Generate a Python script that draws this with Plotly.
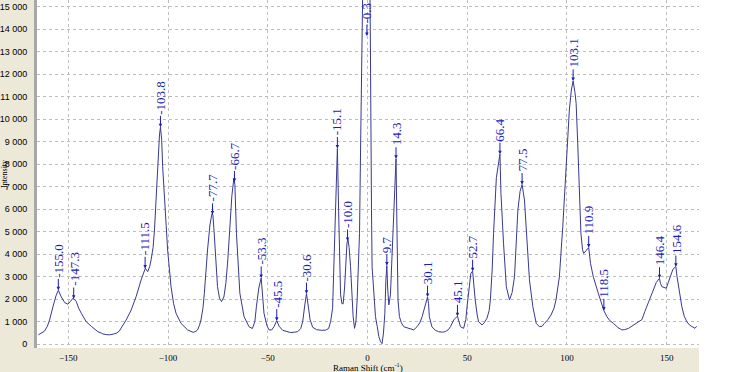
import numpy as np
import plotly.graph_objects as go

# Raman spectrum
shift = [
    -165.0, -163.5, -162.0, -160.5, -159.4, -157.7, -156.2, -155.0, -153.5, -151.8,
    -150.2, -149.0, -147.6, -146.0, -144.8, -143.5, -141.0, -138.5, -136.5, -135.2,
    -133.5, -132.7, -131.0, -129.4, -127.5, -126.0, -124.5, -123.5, -121.0, -118.5,
    -116.0, -113.5, -111.9, -111.4, -110.2, -109.2, -108.5, -107.5, -106.8, -106.0,
    -105.2, -104.3, -103.8, -103.2, -102.7, -101.3, -100.2, -98.5, -97.2, -96.0,
    -93.5, -90.2, -88.5, -87.4, -86.0, -85.2, -84.2, -83.5, -82.5, -81.8,
    -80.2, -79.0, -78.0, -77.5, -76.9, -76.0, -75.2, -74.2, -73.2, -72.0,
    -71.0, -70.0, -69.0, -68.0, -67.0, -66.5, -65.7, -64.8, -64.0, -61.9,
    -59.4, -57.7, -56.5, -55.7, -54.5, -53.3, -52.7, -51.9, -50.5, -49.4,
    -48.0, -46.8, -45.5, -44.3, -42.5, -40.5, -38.5, -36.5, -35.0, -33.5,
    -32.5, -31.5, -30.6, -29.7, -28.8, -27.5, -25.5, -23.0, -21.0, -19.5,
    -18.5, -17.5, -16.8, -15.9, -15.1, -14.5, -14.0, -13.5, -12.8, -12.2,
    -11.5, -11.0, -10.3, -9.8, -9.2, -8.5, -7.8, -7.2, -6.5, -5.8,
    -5.2, -4.5, -4.0, -3.5, -3.1, -2.7, -2.2, -0.3, 1.0, 1.4,
    1.6, 2.0, 2.3, 3.2, 4.0, 4.9, 5.7, 6.5, 7.3, 8.0,
    8.7, 9.2, 9.7, 10.1, 10.7, 11.5, 12.3, 13.0, 13.7, 14.3,
    14.8, 15.3, 16.0, 17.0, 18.2, 20.7, 23.2, 24.8, 26.2, 27.4,
    29.0, 30.1, 30.6, 31.0, 32.3, 34.0, 35.7, 37.5, 39.0, 40.5,
    41.6, 43.2, 45.1, 45.8, 46.6, 48.2, 49.3, 49.9, 50.8, 51.8,
    52.7, 53.3, 54.0, 55.0, 55.7, 57.4, 58.5, 59.9, 61.0, 61.6,
    62.5, 63.2, 64.6, 66.4, 66.9, 68.2, 69.6, 71.2, 72.5,
    73.7, 74.5, 75.4, 76.5, 77.5, 78.7, 80.0, 81.2, 82.9, 84.6,
    86.2, 87.5, 88.7, 90.5, 92.0, 93.5, 94.5, 96.2, 97.9, 99.6,
    101.2, 102.2, 103.1, 104.0, 104.6, 105.4, 106.2, 107.0, 107.8, 108.4,
    109.5, 110.9, 111.8, 113.2, 115.7, 117.9, 118.5, 120.0, 121.5, 123.3,
    125.5, 127.5, 129.0, 130.9, 132.5, 134.2, 135.8, 137.6, 139.0, 140.0,
    141.8, 143.4, 144.8, 146.4, 146.9, 147.6, 148.8, 149.8, 150.8, 151.7,
    153.0, 153.8, 154.6, 155.2, 156.0, 157.6, 158.8, 160.1, 161.5, 162.6,
    163.5, 164.2, 165.0,
]
intensity = [
    420, 500, 580, 800, 1080, 1670, 2150, 2400, 2100, 1850,
    1780, 1900, 2050, 1900, 1600, 1380, 1000, 800, 650, 560,
    500, 460, 430, 420, 450, 490, 580, 710, 1080, 1520,
    2120, 2860, 3300, 3380, 3230, 3450, 3750, 4300, 5080, 6410,
    8000, 9300, 9650, 9100, 7890, 5670, 4190, 2560, 1800, 1380,
    930, 640, 560, 530, 580, 640, 850, 1080, 1600, 2270,
    4190, 5300, 5800, 5750, 5000, 3800, 2560, 2050, 1900, 2100,
    2710, 3800, 5230, 6600, 7380, 7100, 4930, 3400, 2270, 1230,
    780, 700, 1000, 1670, 2500, 2950, 2400, 1380, 850, 640,
    640, 800, 1050, 800, 620, 560, 520, 540, 560, 700,
    1000, 1700, 2250, 1700, 1100, 760, 650, 620, 630, 700,
    1000, 1600, 3450, 6500, 8700, 6000, 3800, 2200, 1800, 1800,
    2500, 3450, 4500, 4650, 4300, 3450, 2200, 1230, 710, 1000,
    1970, 3300, 4930, 8500, 11600, 14000, 17000, 19000, 17500, 14000,
    9400, 6000, 3450, 1970, 1230, 780, 340, 120, 30, 500,
    1380, 2800, 3500, 2500, 1750, 2200, 3750, 5000, 6410, 8250,
    4930, 1970, 1230, 950, 780, 710, 640, 780, 950, 1230,
    1800, 2100, 1800, 1230, 780, 620, 560, 540, 560, 650,
    780, 1080, 1250, 1000, 780, 710, 1100, 1670, 2500, 3150,
    3250, 2600, 1970, 1300, 1000, 860, 950, 1160, 1500, 1970,
    3300, 4930, 7400, 8450, 6710, 4490, 2560, 1970, 2300,
    3000, 4300, 5970, 6800, 7100, 6410, 4490, 2860, 1670, 930,
    780, 800, 930, 1100, 1300, 1600, 1970, 3000, 5230, 8190,
    10410, 11300, 11700, 11200, 10710, 8930, 6710, 4930, 4200, 4040,
    4150, 4300, 3600, 3000, 2270, 1650, 1500, 1230, 1050, 930,
    750, 640, 650, 710, 800, 930, 1000, 1100, 1450, 1670,
    2050, 2410, 2750, 2930, 2700, 2560, 2520, 2490, 2750, 3000,
    3300, 3400, 3450, 3000, 2560, 1670, 1250, 1000, 850, 780,
    750, 710, 800,
]

# Peak labels shown on the chart
peak_positions = [
    -155.0, -147.3, -111.5, -103.8, -77.7, -66.7, -53.3, -45.5, -30.6, -15.1,
    -10.0, -0.3, 9.7, 14.3, 30.1, 45.1, 52.7, 66.4, 77.5, 103.1,
    110.9, 118.5, 146.4, 154.6,
]
peak_texts = [
    "-155.0", "-147.3", "-111.5", "-103.8", "-77.7", "-66.7", "-53.3", "-45.5", "-30.6", "-15.1",
    "-10.0", "-0.3", "9.7", "14.3", "30.1", "45.1", "52.7", "66.4", "77.5", "103.1",
    "110.9", "118.5", "146.4", "154.6",
]

x_ticks = [-150, -100, -50, 0, 50, 100, 150]
y_ticks = list(range(0, 15001, 1000))
y_ticktext = [f"{v:,}".replace(",", " ") for v in y_ticks]

LINE = "#383890"
LABEL = "#1c1cb8"
TAN = "#ECE9D8"

fig = go.Figure()
fig.add_trace(go.Scatter(x=shift, y=intensity, mode="lines",
                         line=dict(color=LINE, width=1), hoverinfo="skip"))

Y_TOP = 15300
ann = []
char_w = {"-": 4.33, ".": 3.25}
for px, txt in zip(peak_positions, peak_texts):
    py = float(np.interp(px, shift, intensity))
    py = min(py, 13700)
    L = sum(char_w.get(c, 6.5) for c in txt)
    ann.append(dict(x=px, y=py, xref="x", yref="y", text=txt, textangle=-90,
                    showarrow=True, ax=0, ay=-(12 + L / 2 + 1),
                    arrowhead=2, arrowsize=0.7, arrowwidth=1, arrowcolor=LABEL,
                    font=dict(family="Liberation Serif, Times New Roman, serif", size=13, color=LABEL)))

ann.append(dict(x=0.5, y=-0.055, xref="paper", yref="paper", showarrow=False,
                text="Raman Shift (cm<sup>-1</sup>)", yanchor="middle",
                font=dict(family="Liberation Serif, serif", size=9, color="#000")))
ann.append(dict(x=-0.05, y=0.5, xref="paper", yref="paper", showarrow=False,
                text="Intensity", textangle=-90, xanchor="center",
                font=dict(family="Liberation Serif, serif", size=8, color="#000")))

fig.update_layout(
    width=749, height=372,
    margin=dict(l=37, r=50, t=0, b=24, autoexpand=False),
    paper_bgcolor=TAN, plot_bgcolor="white",
    showlegend=False,
    annotations=ann,
    shapes=[dict(type="rect", xref="paper", yref="paper", x0=1, x1=1.2, y0=-0.2, y1=1.05,
                 fillcolor="white", line=dict(width=0), layer="below")],
)
fig.update_xaxes(range=[-165.7, 166.2], tickvals=x_ticks, ticks="", automargin=False,
                 showgrid=True, gridcolor="#BDBDBD", griddash="dot", gridwidth=1,
                 zeroline=False, showline=False, ticklabelstandoff=3,
                 tickfont=dict(family="Liberation Serif, serif", size=9, color="#000"))
fig.update_yaxes(range=[-165, Y_TOP], tickvals=y_ticks, ticktext=y_ticktext, ticks="", automargin=False,
                 showgrid=True, gridcolor="#BDBDBD", griddash="dot", gridwidth=1,
                 zeroline=False, showline=True, linecolor="#A8A8A8", linewidth=3,
                 ticklabelstandoff=5,
                 tickfont=dict(family="Liberation Sans, Arial, sans-serif", size=9, color="#000"))

fig.write_html("out.html", config={"displayModeBar": False},
               post_script="document.body.style.margin='0';document.body.style.overflow='hidden';")
